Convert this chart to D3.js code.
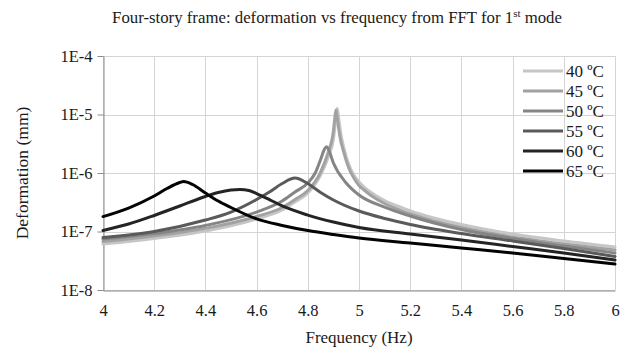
<!DOCTYPE html>
<html>
<head>
<meta charset="utf-8">
<script src="https://cdn.jsdelivr.net/npm/d3@7"></script>
<style>
  html, body { margin: 0; padding: 0; background: #fff; }
  svg { display: block; }
  text { font-family: "Liberation Serif", "Times New Roman", serif; fill: #1a1a1a; }
</style>
</head>
<body>
<svg id="chart" width="627" height="348"></svg>
<script>
// Deformation (mm) vs frequency (Hz) from the FFT, first mode, per temperature.
const seriesLabels = ["40 ºC", "45 ºC", "50 ºC", "55 ºC", "60 ºC", "65 ºC"];

const freq40 = [4.0, 4.2, 4.4, 4.6, 4.7, 4.75, 4.8, 4.85, 4.88, 4.9, 4.91, 4.915, 4.92, 4.93, 4.94, 4.96, 4.98, 5.0, 5.02, 5.05, 5.1, 5.15, 5.2, 5.3, 5.4, 5.6, 5.8, 6.0];
const def40  = [6.11e-8, 7.59e-8, 1.02e-7, 1.64e-7, 2.33e-7, 3.19e-7, 4.55e-7, 9.24e-7, 1.88e-6, 3.81e-6, 8.71e-6, 1.28e-5, 9.06e-6, 4.46e-6, 2.78e-6, 1.40e-6, 9.24e-7, 7.02e-7, 5.76e-7, 4.55e-7, 3.39e-7, 2.73e-7, 2.24e-7, 1.67e-7, 1.32e-7, 9.06e-8, 6.88e-8, 5.43e-8];

const freq45 = [4.0, 4.2, 4.4, 4.6, 4.7, 4.75, 4.8, 4.85, 4.88, 4.9, 4.905, 4.91, 4.915, 4.925, 4.94, 4.96, 4.98, 5.0, 5.02, 5.05, 5.1, 5.15, 5.2, 5.3, 5.4, 5.6, 5.8, 6.0];
const def45  = [6.75e-8, 8.38e-8, 1.13e-7, 1.81e-7, 2.57e-7, 3.52e-7, 5.02e-7, 1.04e-6, 2.29e-6, 5.22e-6, 8.38e-6, 1.19e-5, 8.71e-6, 4.29e-6, 2.29e-6, 1.22e-6, 8.21e-7, 6.11e-7, 5.12e-7, 4.04e-7, 3.01e-7, 2.42e-7, 1.99e-7, 1.48e-7, 1.17e-7, 8.05e-8, 6.11e-8, 4.83e-8];

const freq50 = [4.0, 4.2, 4.4, 4.6, 4.7, 4.75, 4.8, 4.83, 4.85, 4.865, 4.873, 4.88, 4.9, 4.95, 5.0, 5.1, 5.2, 5.4, 5.6, 5.8, 6.0];
const def50  = [7.44e-8, 9.24e-8, 1.27e-7, 2.15e-7, 3.32e-7, 4.73e-7, 6.75e-7, 1.02e-6, 1.70e-6, 2.54e-6, 2.82e-6, 2.60e-6, 1.48e-6, 6.75e-7, 4.21e-7, 2.62e-7, 1.84e-7, 1.08e-7, 7.59e-8, 5.65e-8, 4.29e-8];

const freq55 = [4.0, 4.2, 4.4, 4.5, 4.6, 4.65, 4.7, 4.75, 4.8, 4.85, 4.9, 5.0, 5.1, 5.2, 5.4, 5.6, 5.8, 6.0];
const def55  = [7.90e-8, 1.00e-7, 1.57e-7, 2.15e-7, 3.52e-7, 4.73e-7, 6.61e-7, 8.21e-7, 6.61e-7, 4.64e-7, 3.46e-7, 2.24e-7, 1.67e-7, 1.32e-7, 9.24e-8, 6.88e-8, 5.12e-8, 3.74e-8];

const freq60 = [4.0, 4.1, 4.2, 4.3, 4.4, 4.45, 4.5, 4.535, 4.57, 4.6, 4.65, 4.7, 4.8, 4.9, 5.0, 5.2, 5.4, 5.6, 5.8, 6.0];
const def60  = [1.04e-7, 1.34e-7, 1.88e-7, 2.73e-7, 3.97e-7, 4.64e-7, 5.12e-7, 5.22e-7, 5.02e-7, 4.46e-7, 3.52e-7, 2.73e-7, 1.91e-7, 1.45e-7, 1.17e-7, 9.06e-8, 7.16e-8, 5.54e-8, 4.29e-8, 3.26e-8];

const freq65 = [4.0, 4.1, 4.2, 4.25, 4.3, 4.315, 4.35, 4.4, 4.45, 4.5, 4.6, 4.7, 4.8, 4.9, 5.0, 5.2, 5.4, 5.6, 5.8, 6.0];
const def65  = [1.80e-7, 2.52e-7, 4.04e-7, 5.43e-7, 6.88e-7, 7.16e-7, 6.36e-7, 4.55e-7, 3.32e-7, 2.57e-7, 1.64e-7, 1.27e-7, 1.04e-7, 8.89e-8, 7.74e-8, 6.36e-8, 5.22e-8, 4.29e-8, 3.46e-8, 2.78e-8];

const xTicks = [4, 4.2, 4.4, 4.6, 4.8, 5, 5.2, 5.4, 5.6, 5.8, 6];
const xTickLabels = ["4", "4.2", "4.4", "4.6", "4.8", "5", "5.2", "5.4", "5.6", "5.8", "6"];
const yTicks = [1e-8, 1e-7, 1e-6, 1e-5, 1e-4];
const yTickLabels = ["1E-8", "1E-7", "1E-6", "1E-5", "1E-4"];

const seriesColors = ["#c6c6c6", "#a2a2a2", "#858585", "#5a5a5a", "#242424", "#030303"];

const freqs = [freq40, freq45, freq50, freq55, freq60, freq65];
const defs = [def40, def45, def50, def55, def60, def65];
const series = seriesLabels.map((label, i) => ({
  label,
  color: seriesColors[i],
  points: freqs[i].map((f, j) => ({ f, d: defs[i][j] }))
}));

const svg = d3.select("#chart");
const plot = { left: 103, right: 615, top: 56, bottom: 290 };

const x = d3.scaleLinear().domain([4, 6]).range([plot.left, plot.right]);
const y = d3.scaleLog().domain([1e-8, 1e-4]).range([plot.bottom, plot.top]);

// gridlines
const grid = svg.append("g").attr("stroke", "#d4d4d4").attr("stroke-width", 1);
grid.selectAll("line.v").data(xTicks).join("line")
  .attr("x1", d => Math.round(x(d)) + 0.5).attr("x2", d => Math.round(x(d)) + 0.5)
  .attr("y1", plot.top).attr("y2", plot.bottom);
grid.selectAll("line.h").data(yTicks).join("line")
  .attr("y1", d => Math.round(y(d)) + 0.5).attr("y2", d => Math.round(y(d)) + 0.5)
  .attr("x1", plot.left).attr("x2", plot.right);

// axes
const yAxis = d3.axisLeft(y)
  .tickValues(yTicks)
  .tickFormat((d, i) => yTickLabels[i])
  .tickSize(6).tickSizeOuter(0).tickPadding(5);
const gy = svg.append("g").attr("transform", `translate(${plot.left + 0.5},0)`).call(yAxis);
gy.select(".domain").attr("stroke", "#8a8a8a");
gy.selectAll(".tick line").attr("stroke", "#8a8a8a");
gy.selectAll(".tick text").attr("font-size", 16.5).attr("fill", "#1a1a1a");

const xAxis = d3.axisBottom(x)
  .tickValues(xTicks)
  .tickFormat((d, i) => xTickLabels[i])
  .tickSize(0).tickSizeOuter(0).tickPadding(14);
const gx = svg.append("g").attr("transform", `translate(0,${plot.bottom + 0.5})`).call(xAxis);
gx.select(".domain").attr("stroke", "#8a8a8a");
gx.selectAll(".tick text").attr("font-size", 16.5).attr("fill", "#1a1a1a");

// curves
const line = d3.line()
  .x(p => x(p.f))
  .y(p => y(p.d))
  .curve(d3.curveMonotoneX);

svg.append("g").selectAll("path").data(series).join("path")
  .attr("d", s => line(s.points))
  .attr("fill", "none")
  .attr("stroke", s => s.color)
  .attr("stroke-width", 3)
  .attr("stroke-linejoin", "round")
  .attr("stroke-linecap", "round");

// legend
const legend = svg.append("g");
const legendRows = legend.selectAll("g").data(series).join("g")
  .attr("transform", (s, i) => `translate(523,${71 + i * 20})`);
legendRows.append("line")
  .attr("x1", 0).attr("x2", 40).attr("y1", 0).attr("y2", 0)
  .attr("stroke", s => s.color).attr("stroke-width", 3);
legendRows.append("text")
  .attr("x", 43).attr("dy", "0.35em")
  .attr("font-size", 17)
  .text(s => s.label);

// titles
const title = svg.append("text")
  .attr("x", 337).attr("y", 23)
  .attr("text-anchor", "middle")
  .attr("font-size", 16.8);
title.append("tspan").text("Four-story frame: deformation vs frequency from FFT for 1");
title.append("tspan").attr("font-size", 11).attr("dy", -6).text("st");
title.append("tspan").attr("dy", 6).text(" mode");

svg.append("text")
  .attr("x", (plot.left + plot.right) / 2).attr("y", 343)
  .attr("text-anchor", "middle")
  .attr("font-size", 17)
  .text("Frequency (Hz)");

svg.append("text")
  .attr("transform", `translate(28,${(plot.top + plot.bottom) / 2}) rotate(-90)`)
  .attr("text-anchor", "middle")
  .attr("font-size", 17.5)
  .text("Deformation (mm)");
</script>
</body>
</html>
